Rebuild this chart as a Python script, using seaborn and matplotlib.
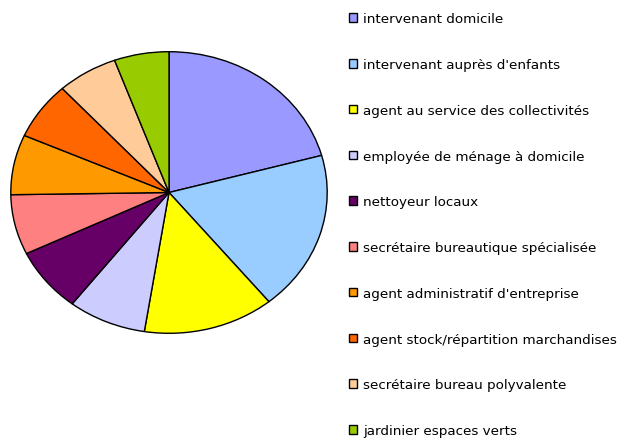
import matplotlib
matplotlib.use("Agg")
import matplotlib.pyplot as plt
import seaborn as sns

metiers = ["intervenant domicile", "intervenant auprès d'enfants",
           "agent au service des collectivités", "employée de ménage à domicile",
           "nettoyeur locaux", "secrétaire bureautique spécialisée",
           "agent administratif d'entreprise", "agent stock/répartition marchandises",
           "secrétaire bureau polyvalente", "jardinier espaces verts"]
parts = [20.8, 18.4, 13.4, 8.0, 7.4, 6.9, 6.9, 6.6, 6.2, 5.6]
couleurs = ["#9999FF", "#99CCFF", "#FFFF00", "#CCCCFF", "#660066",
            "#FF8080", "#FF9900", "#FF6600", "#FFCC99", "#99CC00"]

sns.set_theme(style="white")
plt.rcParams['font.family'] = ['DejaVu Sans']

fig = plt.figure(figsize=(6.26, 4.39), dpi=100)
# pie is drawn a bit squashed (ellipse), so use a non-square axes
ax = fig.add_axes([10/626, (439-335)/439, 318/626, 283/439])
wedges, _ = ax.pie(parts, colors=couleurs, startangle=90, counterclock=False,
                   wedgeprops={'edgecolor': 'black', 'linewidth': 1.0})
ax.set_aspect('auto')
ax.set_xlim(-1.005, 1.005)
ax.set_ylim(-1.005, 1.005)
ax.axis('off')

fig.legend(wedges, metiers, loc='upper left', bbox_to_anchor=(344/626, 1 - 8/439),
           frameon=False, fontsize=9.7, handlelength=0.6, handleheight=0.6,
           handletextpad=0.42, labelspacing=2.43, borderaxespad=0,
           labelcolor='black')

fig.savefig("out.png", dpi=100)
